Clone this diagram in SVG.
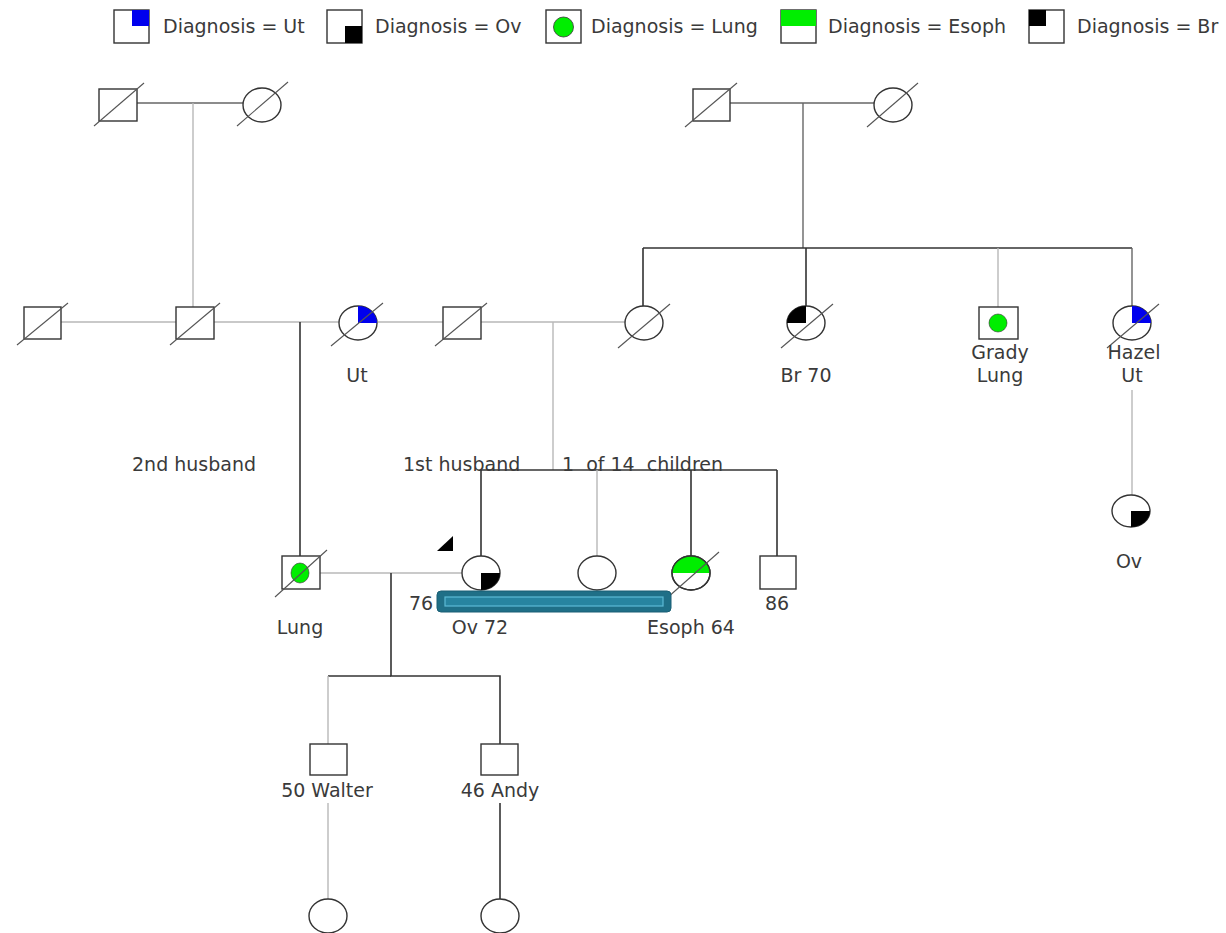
<svg xmlns="http://www.w3.org/2000/svg" width="1226" height="933" viewBox="0 0 1226 933">
<style>
text{font-family:"DejaVu Sans","Liberation Sans",sans-serif;font-size:19px;fill:#3a3a3a;white-space:pre}
.c{text-anchor:middle}
.shape{fill:#fff;stroke:#333;stroke-width:1.4}
.slash{stroke:#555;stroke-width:1.1}
.dk{stroke:#333;stroke-width:1.6;fill:none}
.md{stroke:#666;stroke-width:1.4;fill:none}
.lt{stroke:#b8b8b8;stroke-width:1.4;fill:none}
.blue{fill:#0000ee}
.blk{fill:#000}
.grn{fill:#00ee00}
</style>
<rect width="1226" height="933" fill="#fff"/>
<g id="legend">
  <rect class="shape" x="114" y="10" width="35" height="33"/><rect class="blue" x="132" y="10" width="17" height="16"/>
  <text x="163" y="33">Diagnosis = Ut</text>
  <rect class="shape" x="327" y="10" width="35" height="33"/><rect class="blk" x="345" y="26" width="17" height="17"/>
  <text x="375" y="33">Diagnosis = Ov</text>
  <rect class="shape" x="546" y="10" width="35" height="33"/><ellipse class="grn" cx="563.5" cy="27" rx="10" ry="10" stroke="#333" stroke-width="0.8"/>
  <text x="591" y="33">Diagnosis = Lung</text>
  <rect class="shape" x="781" y="10" width="35" height="33"/><rect class="grn" x="781" y="10" width="35" height="16"/>
  <text x="828" y="33">Diagnosis = Esoph</text>
  <rect class="shape" x="1029" y="10" width="35" height="33"/><rect class="blk" x="1029" y="10" width="17" height="16"/>
  <text x="1077" y="33">Diagnosis = Br</text>
</g>
<g id="connectors">
  <path class="md" d="M137 103H243"/>
  <path class="lt" d="M193 103V307"/>
  <path class="md" d="M730 103H874"/>
  <path class="md" d="M803 103V248"/>
  <path class="dk" d="M643 248H1132"/>
  <path class="dk" d="M643 248V306M806 248V306"/>
  <path class="lt" d="M998 248V307"/>
  <path class="md" d="M1132 248V306"/>
  <path class="lt" d="M61 322H176M214 322H339M378 322H443M481 322H625"/>
  <path class="dk" d="M300 322V556"/>
  <path class="lt" d="M553 322V470"/>
  <path class="dk" d="M481 470H777"/>
  <path class="dk" d="M481 470V556M691 470V556M777 470V556"/>
  <path class="lt" d="M597 470V556"/>
  <path class="lt" d="M1132 390V495"/>
  <path class="lt" d="M320 573H462"/>
  <path class="dk" d="M391 573V676H500V744"/>
  <path class="dk" d="M328 676H391"/>
  <path class="lt" d="M328 676V744"/>
  <path class="lt" d="M328 803V899"/>
  <path class="dk" d="M500 803V899"/>
</g>
<g id="gf1">
  <rect class="shape" x="99" y="89" width="38" height="32"/>
  <line class="slash" x1="94" y1="126" x2="144" y2="83"/>
</g>
<g id="gm1">
  <ellipse class="shape" cx="262" cy="105" rx="19" ry="17"/>
  <line class="slash" x1="237" y1="126" x2="288" y2="82"/>
</g>
<g id="gf2">
  <rect class="shape" x="693" y="89" width="37" height="32"/>
  <line class="slash" x1="685" y1="127" x2="737" y2="83"/>
</g>
<g id="gm2">
  <ellipse class="shape" cx="893" cy="105" rx="19" ry="17"/>
  <line class="slash" x1="867" y1="127" x2="918" y2="83"/>
</g>
<g id="m_a">
  <rect class="shape" x="24" y="307" width="37" height="32"/>
  <line class="slash" x1="17" y1="345" x2="68" y2="303"/>
</g>
<g id="m_b">
  <rect class="shape" x="176" y="307" width="38" height="32"/>
  <line class="slash" x1="170" y1="345" x2="220" y2="303"/>
</g>
<g id="gma">
  <ellipse class="shape" cx="358" cy="323" rx="19" ry="17"/>
  <path class="blue" d="M358 323V306A19 17 0 0 1 377 323Z"/>
  <line class="slash" x1="331" y1="346" x2="383" y2="303"/>
  <text class="c" x="357" y="382">Ut</text>
</g>
<g id="m_c">
  <rect class="shape" x="443" y="307" width="38" height="32"/>
  <line class="slash" x1="435" y1="346" x2="487" y2="303"/>
</g>
<g id="f_d">
  <ellipse class="shape" cx="644" cy="323" rx="19" ry="17"/>
  <line class="slash" x1="618" y1="348" x2="670" y2="304"/>
</g>
<g id="f_br">
  <ellipse class="shape" cx="806" cy="323" rx="19" ry="17"/>
  <path class="blk" d="M806 323H787A19 17 0 0 1 806 306Z"/>
  <line class="slash" x1="781" y1="348" x2="833" y2="304"/>
  <text class="c" x="806" y="382">Br 70</text>
</g>
<g id="grady">
  <rect class="shape" x="979" y="307" width="39" height="32"/>
  <ellipse class="grn" cx="998" cy="323" rx="9" ry="9" stroke="#333" stroke-width="0.6"/>
  <text class="c" x="1000" y="359">Grady</text>
  <text class="c" x="1000" y="382">Lung</text>
</g>
<g id="hazel">
  <ellipse class="shape" cx="1132" cy="323" rx="19" ry="17"/>
  <path class="blue" d="M1132 323V306A19 17 0 0 1 1151 323Z"/>
  <line class="slash" x1="1107" y1="348" x2="1159" y2="304"/>
  <text class="c" x="1134" y="359">Hazel</text>
  <text class="c" x="1132" y="382">Ut</text>
</g>
<g id="notes">
  <text x="132" y="471">2nd husband</text>
  <text x="403" y="471">1st husband</text>
  <text x="562" y="471">1  of 14  children</text>
</g>
<g id="hazel_child">
  <ellipse class="shape" cx="1131" cy="511" rx="19" ry="16"/>
  <path class="blk" d="M1131 511H1150A19 16 0 0 1 1131 527Z"/>
  <text class="c" x="1129" y="568">Ov</text>
</g>
<g id="lung_m">
  <rect class="shape" x="282" y="556" width="38" height="33"/>
  <ellipse class="grn" cx="300" cy="573" rx="9" ry="10" stroke="#333" stroke-width="0.6"/>
  <line class="slash" x1="275" y1="597" x2="327" y2="550"/>
  <text class="c" x="300" y="634">Lung</text>
</g>
<g id="proband">
  <polygon class="blk" points="453,536 453,551 437,551"/>
  <ellipse class="shape" cx="481" cy="573" rx="19" ry="17"/>
  <path class="blk" d="M481 573H500A19 17 0 0 1 481 590Z"/>
  <text class="c" x="421" y="610">76</text>
  <text class="c" x="480" y="634">Ov 72</text>
</g>
<g id="sib_f">
  <ellipse class="shape" cx="597" cy="573" rx="19" ry="17"/>
</g>
<g id="esoph">
  <ellipse class="shape" cx="691" cy="573" rx="19" ry="17"/>
  <path class="grn" d="M672 573A19 17 0 0 1 710 573Z"/>
  <ellipse cx="691" cy="573" rx="19" ry="17" fill="none" stroke="#333" stroke-width="1.4"/>
  <line class="slash" x1="667" y1="598" x2="719" y2="552"/>
  <text class="c" x="691" y="634">Esoph 64</text>
</g>
<g id="sib_m">
  <rect class="shape" x="760" y="556" width="36" height="33"/>
  <text class="c" x="777" y="610">86</text>
</g>
<g id="highlight">
  <rect x="437" y="591" width="234" height="21" rx="4" fill="#1f6f87" stroke="#1a5f74" stroke-width="1"/>
  <rect x="445" y="597" width="218" height="9" fill="#2784a0" stroke="#5cbad5" stroke-width="1.2"/>
</g>
<g id="walter">
  <rect class="shape" x="310" y="744" width="37" height="31"/>
  <text class="c" x="327" y="797">50 Walter</text>
</g>
<g id="andy">
  <rect class="shape" x="481" y="744" width="37" height="31"/>
  <text class="c" x="500" y="797">46 Andy</text>
</g>
<g id="walter_child">
  <ellipse class="shape" cx="328" cy="916" rx="19" ry="17"/>
</g>
<g id="andy_child">
  <ellipse class="shape" cx="500" cy="916" rx="19" ry="17"/>
</g>
</svg>
